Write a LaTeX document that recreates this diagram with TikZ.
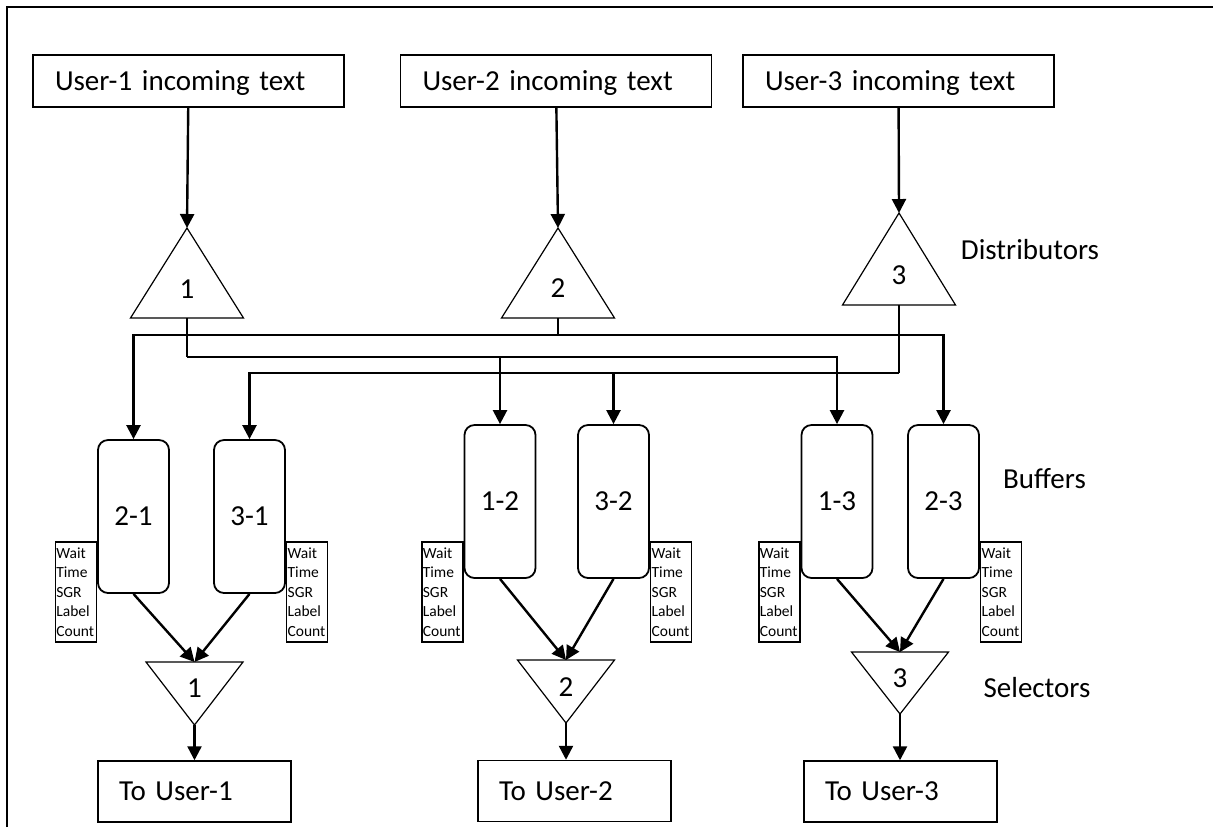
\documentclass[tikz,border=0pt]{standalone}
\usepackage{fontspec}
\setmainfont{Carlito}
\usetikzlibrary{arrows.meta}
\newcommand{\bigfs}     {\fontsize{14.5}{17}\selectfont}
\newcommand{\smallfs}   {\fontsize{7.75}{9.75}\selectfont}
\newcommand{\sidetxt}   {Wait\\Time\\SGR\\Label\\Count}

\begin{document}
\begin{tikzpicture}[x=0.5pt,y=-0.5pt,
    >={Triangle[length=7pt,width=7pt]},
    every node/.style={font=\bigfs},
    inbox/.style={draw,line width=0.75pt,minimum height=26pt,text width=133.5pt,
                  inner xsep=11pt,align=left,text depth=0pt},
    outbox/.style={draw,line width=0.75pt,minimum height=30.5pt,text width=75.5pt,
                   inner xsep=10.5pt,align=left},
    buffer/.style={draw,line width=0.9pt,rounded corners=5pt,minimum width=35.5pt,
                   minimum height=76.5pt,inner sep=0pt},
    side/.style={draw,line width=0.75pt,font=\smallfs,text width=19.5pt,
                 minimum height=50pt,inner xsep=0.5pt,inner ysep=0pt,align=left},
    tri/.style={line width=0.6pt},
    wire/.style={line width=1.2pt}]
     \useasboundingbox (0,0) rectangle (1213,827);
     \draw[line width=0.6pt] (7,827) -- (7,7) -- (1213,7);
     % incoming text
     \node[inbox] (u1) at (188.5,81) {User-1 incoming text};
     \node[inbox] (u2) at (556,81) {User-2 incoming text};
     \node[inbox] (u3) at (898.5,81) {User-3 incoming text};
     % distributors
     \coordinate (d1) at (187,228);
     \coordinate (d2) at (558,228);
     \coordinate (d3) at (899,213);
     \coordinate (d1b) at (187,318);
     \coordinate (d2b) at (558,318);
     \coordinate (d3b) at (899,305);
     \draw[tri] (d1) -- ++(56.5,90) -- ++(-113,0) -- cycle;
     \draw[tri] (d2) -- ++(56.5,90) -- ++(-113,0) -- cycle;
     \draw[tri] (d3) -- ++(56.5,92) -- ++(-113,0) -- cycle;
     \node (d1n) at (187,289) {1};
     \node (d2n) at (558,288) {2};
     \node (d3n) at (899,275) {3};
     \node (dlab) at (1030,250) {Distributors};
     \draw[wire,->] (u1) -- (d1);
     \draw[wire,->] (u2) -- (d2);
     \draw[wire,->] (u3) -- (d3);
     % buffers
     \node[buffer] (b21) at (133.5,516.5) {2-1};
     \node[buffer] (b31) at (249.5,516.5) {3-1};
     \node[buffer] (b12) at (500,501.5) {1-2};
     \node[buffer] (b32) at (613.5,501.5) {3-2};
     \node[buffer] (b13) at (837,501.5) {1-3};
     \node[buffer] (b23) at (943.5,501.5) {2-3};
     \node (blab) at (1044.5,479) {Buffers};
     \node[side,anchor=east] (s21) at (b21.west |- 0,592) {\sidetxt};
     \node[side,anchor=west] (s31) at (b31.east |- 0,592) {\sidetxt};
     \node[side,anchor=east] (s12) at (b12.west |- 0,592) {\sidetxt};
     \node[side,anchor=west] (s32) at (b32.east |- 0,592) {\sidetxt};
     \node[side,anchor=east] (s13) at (b13.west |- 0,592) {\sidetxt};
     \node[side,anchor=west] (s23) at (b23.east |- 0,592) {\sidetxt};
     % wires from the distributors
     \coordinate (wa) at (558,335);
     \coordinate (wb) at (187,357);
     \coordinate (wc) at (899,373);
     \draw[wire] (d2b) -- (wa);
     \draw[wire,->] (wa) -| (b21);
     \draw[wire,->] (wa) -| (b23);
     \draw[wire] (d1b) -- (wb);
     \draw[wire,->] (wb) -| (b13);
     \draw[wire,->] (b12 |- wb) -- (b12);
     \draw[wire] (d3b) -- (wc);
     \draw[wire,->] (wc) -| (b31);
     \draw[wire,->] (b32 |- wc) -- (b32);
     % selectors
     \coordinate (sel1) at (194.5,662);
     \coordinate (sel2) at (566,660);
     \coordinate (sel3) at (900,652);
     \coordinate (sel1a) at (194.5,725);
     \coordinate (sel2a) at (566,723);
     \coordinate (sel3a) at (900,714);
     \draw[tri] (sel1) ++(-48.5,0) -- ++(97,0) -- (sel1a) -- cycle;
     \draw[tri] (sel2) ++(-48.5,0) -- ++(97,0) -- (sel2a) -- cycle;
     \draw[tri] (sel3) ++(-48.5,0) -- ++(97,0) -- (sel3a) -- cycle;
     \node (sel1n) at (194.5,688) {1};
     \node (sel2n) at (566,687) {2};
     \node (sel3n) at (900,678) {3};
     \node (slab) at (1037,688) {Selectors};
     \draw[wire,->] (b21.south) -- (sel1);
     \draw[wire,->] (b31.south) -- (sel1);
     \draw[wire,->] (b12.south) -- (sel2);
     \draw[wire,->] (b32.south) -- (sel2);
     \draw[wire,->] (b13.south) -- (sel3);
     \draw[wire,->] (b23.south) -- (sel3);
     % outgoing
     \node[outbox] (o1) at (194.5,791.5) {To User-1};
     \node[outbox] (o2) at (574.5,791) {To User-2};
     \node[outbox] (o3) at (900.5,791.5) {To User-3};
     \draw[wire,->] (sel1a) -- (sel1a |- o1.north);
     \draw[wire,->] (sel2a) -- (sel2a |- o2.north);
     \draw[wire,->] (sel3a) -- (sel3a |- o3.north);
    \end{tikzpicture}
\end{document}
